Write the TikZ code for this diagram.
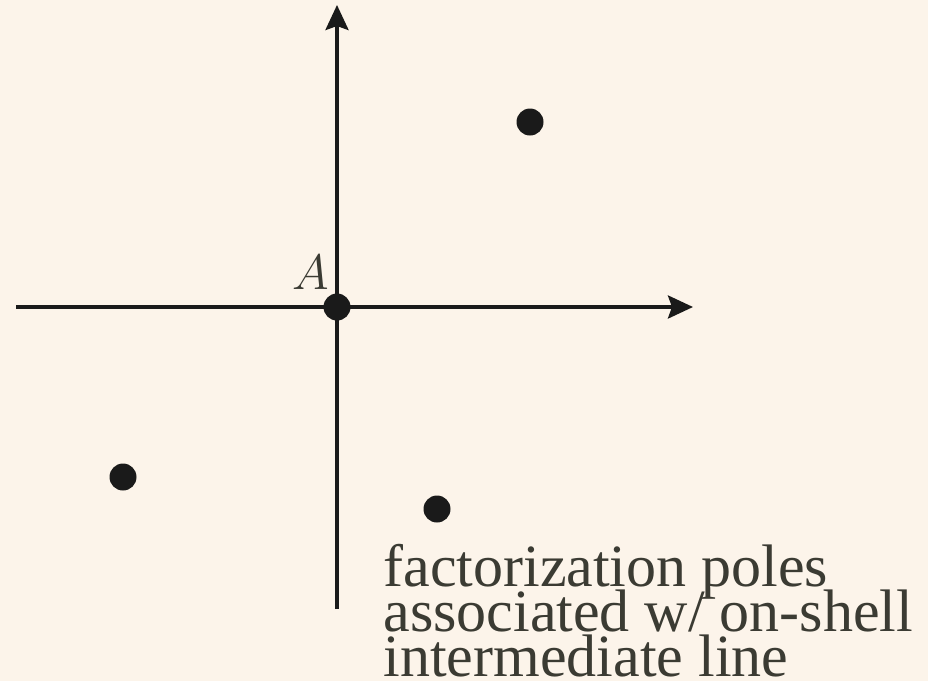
\documentclass[tikz,border=0pt]{standalone}
\usepackage{fontspec}
\setmainfont{Liberation Serif}
\usetikzlibrary{arrows.meta}

\definecolor{paper}{HTML}{FCF4EA}
\definecolor{ink}{HTML}{1A1A1A}
\definecolor{txt}{HTML}{3B3B33}
\newcommand{\notefont}{\fontsize{30pt}{22.5pt}\selectfont\setlength{\lineskiplimit}{-100pt}}

\begin{document}
\begin{tikzpicture}[x=0.5pt, y=-0.5pt,
    axis/.style={ink, line width=1.8pt, -{Stealth[length=12.5pt,width=11.5pt,inset=2pt]}},
    pole/.style={circle, fill=ink, inner sep=0pt, minimum size=13.5pt}]
  % --- 背景与边界 ---
  \fill[paper] (0,0) rectangle (928,681);
  \useasboundingbox (0,0) rectangle (928,681);

  % --- 坐标点 ---
  \coordinate (O) at (337,307);
  \coordinate (xL) at (16,307);
  \coordinate (xR) at (693,307);
  \coordinate (yB) at (337,609);
  \coordinate (yT) at (337,5);

  % --- 坐标轴 ---
  \draw[axis] (xL) -- (xR);
  \draw[axis] (yB) -- (yT);

  % --- 极点 ---
  \node[pole] (pA) at (O) {};
  \node[pole] (p1) at (530,122) {};
  \node[pole] (p2) at (123,477) {};
  \node[pole] (p3) at (437,509) {};

  % --- 标签 ---
  \node[txt, anchor=base east, font=\fontsize{28pt}{28pt}\selectfont,
        inner sep=0pt] (lA) at (329,289) {$A$};
  \node[txt, anchor=north west, align=left, inner sep=0pt,
        font=\notefont] (note) at (383,544)
    {factorization poles\\associated w/ on-shell\\intermediate line};
\end{tikzpicture}
\end{document}
